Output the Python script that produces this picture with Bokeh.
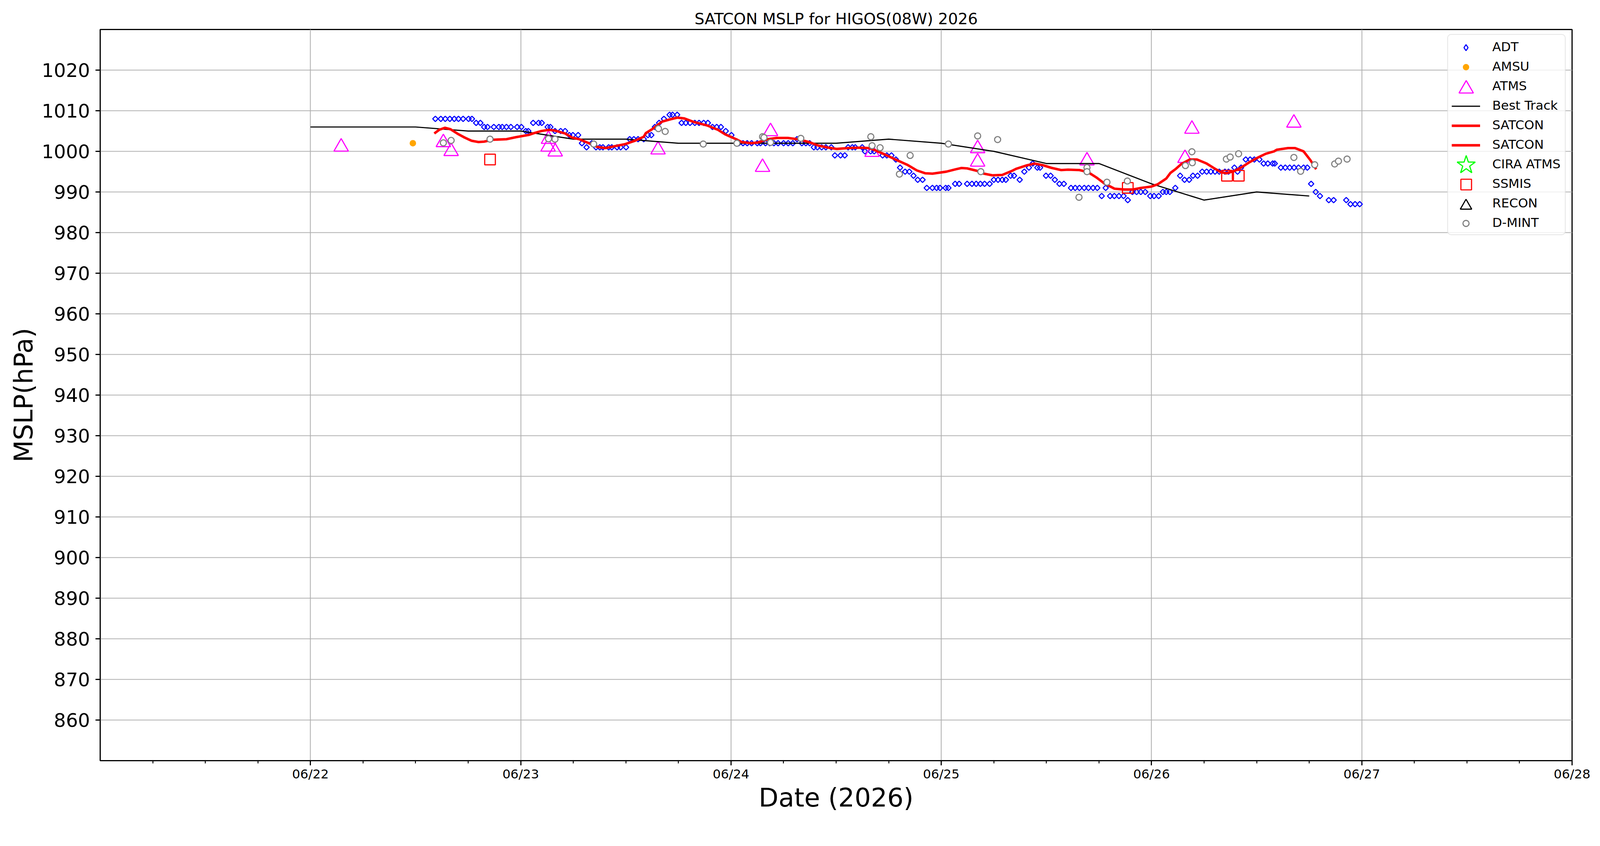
import math
from bokeh.plotting import figure
from bokeh.models import ColumnDataSource, FixedTicker, Legend, LegendItem, Range1d
from bokeh.transform import dodge
from bokeh.embed import file_html
from bokeh.resources import INLINE

FONT = "DejaVu Sans"
TITLE = "SATCON MSLP for HIGOS(08W) 2026"
X_LABEL = "Date (2026)"
Y_LABEL = "MSLP(hPa)"

# time axis: fractional day of June 2026 (UTC)
x_tick_days = [22, 23, 24, 25, 26, 27, 28]
x_tick_labels = ["06/22", "06/23", "06/24", "06/25", "06/26", "06/27", "06/28"]
y_ticks = [860, 870, 880, 890, 900, 910, 920, 930, 940, 950, 960, 970, 980, 990, 1000, 1010, 1020]

adt_time = [22.594, 22.620, 22.641, 22.663, 22.684, 22.704, 22.726, 22.752, 22.768,
            22.788, 22.808,
            22.826, 22.842, 22.872, 22.896, 22.912, 22.932, 22.953, 22.983, 23.003,
            23.024, 23.036,
            23.059, 23.085, 23.100,
            23.128, 23.141,
            23.163, 23.190, 23.211,
            23.231, 23.248, 23.273,
            23.291, 23.313, 23.338,
            23.358, 23.376, 23.391, 23.418, 23.433, 23.458, 23.475, 23.501,
            23.518, 23.538, 23.558, 23.585,
            23.605, 23.621, 23.638, 23.658, 23.681,
            23.708, 23.722, 23.744,
            23.765, 23.785, 23.805, 23.828, 23.848, 23.870, 23.890,
            23.912, 23.932, 23.952, 23.975, 24.002,
            24.037, 24.057, 24.077, 24.098, 24.125, 24.140, 24.164, 24.184, 24.204, 24.224,
            24.250, 24.272, 24.294,
            24.314, 24.337, 24.356, 24.374,
            24.394, 24.411, 24.431, 24.451, 24.477,
            24.494, 24.521, 24.541,
            24.557, 24.577, 24.591, 24.624,
            24.637, 24.664, 24.681,
            24.721, 24.741, 24.763,
            24.784, 24.804, 24.828, 24.848, 24.868, 24.888, 24.911,
            24.931, 24.958, 24.978, 24.994, 25.021, 25.034,
            25.066, 25.085, 25.123, 25.146, 25.166, 25.186, 25.206, 25.230,
            25.250, 25.270, 25.290, 25.307,
            25.330, 25.346, 25.373, 25.395, 25.417, 25.435, 25.457, 25.470,
            25.498, 25.520, 25.540, 25.562, 25.583,
            25.617, 25.637, 25.657, 25.680, 25.700, 25.722, 25.742,
            25.763, 25.782, 25.803, 25.823, 25.845, 25.867, 25.887,
            25.909, 25.929, 25.949, 25.970,
            25.994, 26.012, 26.034, 26.054, 26.070, 26.087, 26.113,
            26.136, 26.157, 26.179, 26.197, 26.219,
            26.241, 26.262, 26.282, 26.302, 26.322, 26.349, 26.366,
            26.394, 26.409, 26.426,
            26.448, 26.469, 26.489, 26.513,
            26.533, 26.553, 26.576, 26.586,
            26.615, 26.636, 26.657, 26.678, 26.699, 26.723, 26.741,
            26.759, 26.781, 26.801, 26.843, 26.866, 26.926,
            26.946, 26.968, 26.990]
adt_mslp = [1008, 1008, 1008, 1008, 1008, 1008, 1008, 1008, 1008,
            1007, 1007,
            1006, 1006, 1006, 1006, 1006, 1006, 1006, 1006, 1006,
            1005, 1005,
            1007, 1007, 1007,
            1006, 1006,
            1005, 1005, 1005,
            1004, 1004, 1004,
            1002, 1001, 1002,
            1001, 1001, 1001, 1001, 1001, 1001, 1001, 1001,
            1003, 1003, 1003, 1003,
            1004, 1004, 1006, 1007, 1008,
            1009, 1009, 1009,
            1007, 1007, 1007, 1007, 1007, 1007, 1007,
            1006, 1006, 1006, 1005, 1004,
            1002, 1002, 1002, 1002, 1002, 1002, 1002, 1002, 1002, 1002,
            1002, 1002, 1002,
            1003, 1002, 1002, 1002,
            1001, 1001, 1001, 1001, 1001,
            999, 999, 999,
            1001, 1001, 1001, 1001,
            1000, 1000, 1000,
            999, 999, 999,
            998, 996, 995, 995, 994, 993, 993,
            991, 991, 991, 991, 991, 991,
            992, 992, 992, 992, 992, 992, 992, 992,
            993, 993, 993, 993,
            994, 994, 993, 995, 996, 997, 996, 996,
            994, 994, 993, 992, 992,
            991, 991, 991, 991, 991, 991, 991,
            989, 991, 989, 989, 989, 989, 988,
            990, 990, 990, 990,
            989, 989, 989, 990, 990, 990, 991,
            994, 993, 993, 994, 994,
            995, 995, 995, 995, 995, 995, 995,
            996, 995, 996,
            998, 998, 998, 998,
            997, 997, 997, 997,
            996, 996, 996, 996, 996, 996, 996,
            992, 990, 989, 988, 988, 988,
            987, 987, 987]

amsu_time = [22.487]
amsu_mslp = [1002.0]

atms_time = [22.146, 22.632, 22.669, 23.132, 23.130, 23.164, 23.653, 24.150, 24.188,
             24.671, 25.173, 25.173, 25.693, 26.159, 26.192, 26.677]
atms_mslp = [1001.6, 1002.7, 1000.5, 1003.5, 1001.6, 1000.4, 1000.9, 996.6, 1005.4,
             1000.3, 1001.2, 997.9, 998.2, 998.8, 1006.0, 1007.5]

best_time = [22.0, 22.25, 22.5, 22.75, 23.0, 23.25, 23.5, 23.75, 24.0, 24.25, 24.5,
             24.75, 25.0, 25.25, 25.5, 25.75, 26.0, 26.25, 26.5, 26.75]
best_mslp = [1006, 1006, 1006, 1005, 1005, 1003, 1003, 1002, 1002, 1002, 1002,
             1003, 1002, 1000, 997, 997, 992, 988, 990, 989]

satcon_time = [22.589, 22.612, 22.639, 22.666, 22.699, 22.733, 22.766, 22.799, 22.826,
               22.866, 22.932, 22.978, 23.038, 23.064, 23.098, 23.134, 23.164, 23.211,
               23.244, 23.278, 23.324, 23.364, 23.404, 23.445, 23.498, 23.545, 23.585,
               23.595, 23.625, 23.672, 23.712, 23.745, 23.778, 23.825, 23.885, 23.938,
               23.972, 24.024, 24.050, 24.097, 24.130, 24.177, 24.217, 24.270, 24.317,
               24.370, 24.417, 24.464, 24.504, 24.557, 24.611, 24.658, 24.684, 24.724,
               24.778, 24.838, 24.884, 24.924, 24.958, 24.984, 25.024, 25.070, 25.096,
               25.123, 25.170, 25.203, 25.243, 25.290, 25.337, 25.356, 25.403, 25.443,
               25.483, 25.523, 25.570, 25.603, 25.657, 25.697, 25.737, 25.777, 25.824,
               25.870, 25.910, 25.950, 25.997, 26.030, 26.070, 26.090, 26.116, 26.142,
               26.182, 26.216, 26.262, 26.296, 26.329, 26.356, 26.396, 26.429, 26.462,
               26.503, 26.543, 26.583, 26.596, 26.649, 26.683, 26.723, 26.756, 26.783]
satcon_mslp = [1004.4, 1005.3, 1005.8, 1005.45, 1004.36, 1003.4, 1002.6, 1002.3, 1002.4,
               1002.85, 1003.0, 1003.5, 1004.05, 1004.5, 1005.0, 1005.3, 1005.1, 1004.4,
               1003.4, 1003.0, 1002.0, 1001.1, 1000.8, 1001.25, 1001.8, 1002.65, 1003.6,
               1004.5, 1005.45, 1007.3, 1007.9, 1008.3, 1008.1, 1007.2, 1006.4, 1005.3,
               1004.2, 1003.0, 1002.3, 1002.0, 1002.2, 1003.0, 1003.3, 1003.3, 1003.0,
               1002.3, 1001.4, 1000.9, 1000.6, 1000.8, 1000.9, 1000.8, 1000.3, 999.4,
               998.1, 996.7, 995.3, 994.6, 994.5, 994.7, 995.0, 995.6, 995.9,
               995.8, 995.2, 994.5, 994.1, 994.2, 995.2, 995.7, 996.5, 997.0,
               996.6, 995.95, 995.4, 995.5, 995.4, 994.9, 993.6, 992.05, 990.8,
               990.6, 990.6, 991.0, 991.3, 991.9, 993.3, 994.7, 995.7, 996.9,
               998.0, 998.0, 997.0, 995.9, 994.9, 994.6, 995.2, 996.1, 997.2,
               998.4, 999.4, 1000.0, 1000.4, 1000.8, 1000.8, 1000.0, 997.8, 995.6]

cira_time = [float("nan")]   # no CIRA ATMS estimate for this storm
cira_mslp = [float("nan")]

ssmis_time = [22.854, 25.887, 26.359, 26.415]
ssmis_mslp = [998.0, 991.0, 994.0, 994.0]

recon_time = [float("nan")]  # no reconnaissance fixes
recon_mslp = [float("nan")]

dmint_time = [22.632, 22.669, 22.854, 23.132, 23.163, 23.347, 23.655, 23.687, 23.868,
              24.028, 24.150, 24.157, 24.188, 24.332, 24.665, 24.671, 24.709, 24.801,
              24.852, 25.034, 25.173, 25.188, 25.268, 25.655, 25.693, 25.693, 25.788,
              25.885, 26.161, 26.192, 26.194, 26.356, 26.374, 26.414, 26.677, 26.709,
              26.776, 26.871, 26.889, 26.930]
dmint_mslp = [1002.1, 1002.7, 1003.0, 1003.1, 1003.0, 1001.8, 1005.6, 1004.9, 1001.8,
              1002.0, 1003.6, 1003.4, 1002.2, 1003.2, 1003.6, 1001.4, 1000.9, 994.4,
              999.0, 1001.8, 1003.8, 995.0, 1002.9, 988.7, 996.0, 995.0, 992.4,
              992.7, 996.5, 999.9, 997.2, 998.1, 998.6, 999.4, 998.5, 995.1,
              996.7, 996.9, 997.6, 998.1]

legend_labels = ["ADT", "AMSU", "ATMS", "Best Track", "SATCON", "SATCON",
                 "CIRA ATMS", "SSMIS", "RECON", "D-MINT"]

# ---------------------------------------------------------------- layout
# sizes below are measured on the 4212x2166 picture; the page is photographed
# ~2.8 % enlarged from its top-left corner, so they are divided by K.
K = 1.028
def px(v):
    return v / K
def fs(v):
    return f"{px(v):.1f}px"

W = math.floor(px(4212)) - 1
H = math.floor(px(2166)) - 1
b_left = round(px(263))
b_top = round(px(77))
b_right = W - round(px(4137))
b_bottom = H - round(px(2002))
frame_h = H - b_top - b_bottom
Y0, Y1 = 850, 1030

p = figure(width=W, height=H, output_backend="svg", toolbar_location=None,
           x_range=Range1d(21, 28), y_range=Range1d(Y0, Y1),
           min_border_left=b_left, min_border_right=b_right, min_border_top=b_top,
           min_border_bottom=b_bottom, title=TITLE)
p.background_fill_color = "white"
p.border_fill_color = "white"
p.outline_line_color = "black"
p.outline_line_width = px(3)

p.title.text_font = FONT
p.title.text_font_size = fs(41)
p.title.text_font_style = "normal"
p.title.align = "center"
p.title.text_color = "black"

minor = [21 + k * 0.25 for k in range(1, 28) if k % 4 != 0]
p.xaxis.ticker = FixedTicker(ticks=x_tick_days, minor_ticks=minor)
p.xaxis.major_label_overrides = {d: s for d, s in zip(x_tick_days, x_tick_labels)}
p.yaxis.ticker = FixedTicker(ticks=y_ticks)

for ax in (p.xaxis[0], p.yaxis[0]):
    ax.axis_line_color = "black"
    ax.axis_line_width = px(3)
    ax.major_tick_line_width = px(3)
    ax.major_tick_out = round(px(12))
    ax.major_tick_in = 0
    ax.major_label_text_font = FONT
    ax.major_label_text_color = "black"
    ax.axis_label_text_font = FONT
    ax.axis_label_text_font_style = "normal"
    ax.axis_label_text_font_size = fs(67.5)
    ax.axis_label_text_color = "black"

p.xaxis.axis_label = X_LABEL
p.yaxis.axis_label = Y_LABEL
p.xaxis.major_label_text_font_size = fs(33.5)
p.yaxis.major_label_text_font_size = fs(50)
p.xaxis.major_label_standoff = 3
p.yaxis.major_label_standoff = round(px(14))
p.xaxis.axis_label_standoff = 0
p.yaxis.axis_label_standoff = 6
p.xaxis.minor_tick_out = round(px(7))
p.xaxis.minor_tick_in = 0
p.xaxis.minor_tick_line_width = px(2.5)
p.yaxis.minor_tick_line_color = None

p.grid.grid_line_color = "#b0b0b0"
p.grid.grid_line_width = px(2.2)

# ---------------------------------------------------------------- data
def src(t, v):
    return ColumnDataSource(dict(t=t, v=v))

S_ADT, S_ADT_KEY, S_AMSU, S_ATMS = px(10), px(16), px(17), px(38)
S_STAR, S_SSMIS, S_RECON, S_DMINT = px(50), px(28), px(30), px(16)
hpa_px = frame_h / (Y1 - Y0)
# matplotlib centres "^" on its bounding box, Bokeh on the centroid
tri_shift = lambda size: size * math.sqrt(3) / 12

r_adt = p.scatter("t", "v", source=src(adt_time, adt_mslp), marker="square",
                  angle=math.pi / 4, size=S_ADT, line_color="blue", fill_color=None,
                  line_width=px(2.8))
r_amsu = p.scatter("t", "v", source=src(amsu_time, amsu_mslp), marker="circle",
                   size=S_AMSU, fill_color="orange", line_color=None)
r_atms = p.scatter("t", dodge("v", -tri_shift(S_ATMS) / hpa_px),
                   source=src(atms_time, atms_mslp), marker="triangle", size=S_ATMS,
                   line_color="#FF00FF", fill_color=None, line_width=px(3))
r_best = p.line("t", "v", source=src(best_time, best_mslp), line_color="black",
                line_width=px(3))
r_sat = p.line("t", "v", source=src(satcon_time, satcon_mslp), line_color="red",
               line_width=px(6.5))
r_cira = p.scatter("t", "v", source=src(cira_time, cira_mslp), marker="star",
                   size=S_STAR, line_color="#00FF00", fill_color=None, line_width=px(3))
r_ssmis = p.scatter("t", "v", source=src(ssmis_time, ssmis_mslp), marker="square",
                    size=S_SSMIS, line_color="red", fill_color=None, line_width=px(3))
r_recon = p.scatter("t", dodge("v", -tri_shift(S_RECON) / hpa_px),
                    source=src(recon_time, recon_mslp), marker="triangle",
                    size=S_RECON, line_color="black", fill_color=None, line_width=px(3))
r_dmint = p.scatter("t", "v", source=src(dmint_time, dmint_mslp), marker="circle",
                    size=S_DMINT, line_color="gray", fill_color="white",
                    line_width=px(3))

# legend-only helpers (nothing drawn in the plot)
r_adt_key = p.scatter("t", "v", source=src([float("nan")], [float("nan")]),
                      marker="diamond", size=S_ADT_KEY, line_color="blue",
                      fill_color=None, line_width=px(2.8))
r_blank = p.scatter("t", "v", source=src([float("nan")], [float("nan")]),
                    marker="circle", size=1, line_alpha=0, fill_alpha=0)

# ---------------------------------------------------------------- legend
pad = round(px(11))
gh = round(px(40))
sp = round(px(11))
step = gh + sp
box_h = 2 * pad + len(legend_labels) * gh + (len(legend_labels) - 1) * sp
box_left = px(3809) - b_left
box_top = px(94) - b_top             # below the frame top
row0 = box_top + pad + gh / 2
cx = px(3858) - b_left

kw = {}
if "border_radius" in Legend.properties():
    kw["border_radius"] = round(px(10))
main = Legend(items=[LegendItem(label=l, renderers=[r_blank]) for l in legend_labels],
              location=(box_left, frame_h - box_top - box_h), margin=0, padding=pad,
              spacing=sp, glyph_width=round(px(75)), glyph_height=gh, label_height=gh,
              label_standoff=round(px(30)), label_text_font=FONT,
              label_text_font_size=fs(33.5), label_text_color="black",
              background_fill_color="white", background_fill_alpha=0.8,
              border_line_color="#cccccc", border_line_width=px(3), **kw)
p.add_layout(main)

line_key = round(px(75))
keys = [(r_adt_key, S_ADT_KEY, 0), (r_amsu, S_AMSU, 0), (r_atms, S_ATMS, tri_shift(S_ATMS)),
        (r_best, None, 0), (r_sat, None, 0), (r_sat, None, 0),
        (r_cira, S_STAR, 0), (r_ssmis, S_SSMIS, 0), (r_recon, S_RECON, tri_shift(S_RECON)),
        (r_dmint, S_DMINT, 0)]
for i, (rend, size, shift) in enumerate(keys):
    if size is None:
        gw_i, gh_i = line_key, gh
    else:
        gw_i = gh_i = round(size / 0.4)   # Bokeh draws legend markers at 0.4 * box
    cy = frame_h - (row0 + step * i)
    leg = Legend(items=[LegendItem(label=" ", renderers=[rend])],
                 location=(cx - gw_i / 2, cy - gh_i / 2 - shift), margin=0, padding=0,
                 spacing=0, glyph_width=gw_i, glyph_height=gh_i, label_height=gh_i,
                 label_standoff=0, label_width=1, label_text_font_size="1px",
                 background_fill_alpha=0, border_line_color=None)
    p.add_layout(leg)

open("out.html", "w").write(file_html(p, INLINE))
